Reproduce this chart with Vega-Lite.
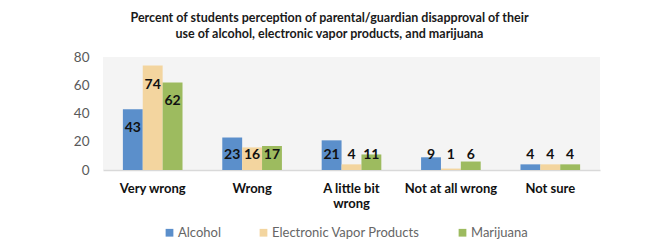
{
  "$schema": "https://vega.github.io/schema/vega-lite/v6.json",
  "autosize": {"type": "none"},
  "width": 497,
  "height": 113,
  "padding": {"left": 103, "top": 57, "right": 61, "bottom": 77},
  "background": "white",
  "title": {
    "text": ["Percent of students perception of parental/guardian disapproval of their", "use of alcohol, electronic vapor products, and marijuana"],
    "font": "Lato",
    "fontSize": 12.5,
    "fontWeight": "bold",
    "color": "#1a1a1a",
    "anchor": "middle",
    "dx": -22,
    "offset": 10,
    "lineHeight": 16
  },
  "data": {
    "values": [
      {"response": "Very wrong", "substance": "Alcohol", "percent": 43},
      {"response": "Very wrong", "substance": "Electronic Vapor Products", "percent": 74},
      {"response": "Very wrong", "substance": "Marijuana", "percent": 62},
      {"response": "Wrong", "substance": "Alcohol", "percent": 23},
      {"response": "Wrong", "substance": "Electronic Vapor Products", "percent": 16},
      {"response": "Wrong", "substance": "Marijuana", "percent": 17},
      {"response": "A little bit wrong", "substance": "Alcohol", "percent": 21},
      {"response": "A little bit wrong", "substance": "Electronic Vapor Products", "percent": 4},
      {"response": "A little bit wrong", "substance": "Marijuana", "percent": 11},
      {"response": "Not at all wrong", "substance": "Alcohol", "percent": 9},
      {"response": "Not at all wrong", "substance": "Electronic Vapor Products", "percent": 1},
      {"response": "Not at all wrong", "substance": "Marijuana", "percent": 6},
      {"response": "Not sure", "substance": "Alcohol", "percent": 4},
      {"response": "Not sure", "substance": "Electronic Vapor Products", "percent": 4},
      {"response": "Not sure", "substance": "Marijuana", "percent": 4}
    ]
  },
  "encoding": {
    "x": {
      "field": "response",
      "type": "nominal",
      "sort": ["Very wrong", "Wrong", "A little bit wrong", "Not at all wrong", "Not sure"],
      "scale": {"paddingInner": 0.4, "paddingOuter": 0.2},
      "axis": {
        "title": null,
        "labelAngle": 0,
        "labelFont": "Lato",
        "labelFontSize": 13,
        "labelFontWeight": "bold",
        "labelColor": "#111111",
        "labelPadding": 12,
        "ticks": false,
        "domainColor": "#d9d9d9",
        "domainWidth": 1.5,
        "labelExpr": "datum.value == 'A little bit wrong' ? ['A little bit', 'wrong'] : datum.value",
        "labelLineHeight": 15
      }
    },
    "xOffset": {
      "field": "substance",
      "type": "nominal",
      "sort": ["Alcohol", "Electronic Vapor Products", "Marijuana"]
    }
  },
  "layer": [
    {
      "mark": {"type": "bar"},
      "encoding": {
        "y": {
          "field": "percent",
          "type": "quantitative",
          "scale": {"domain": [0, 80]},
          "axis": {
            "title": null,
            "values": [0, 20, 40, 60, 80],
            "grid": false,
            "ticks": false,
            "domain": false,
            "labelOverlap": false,
            "labelFont": "Lato",
            "labelFontSize": 13.5,
            "labelColor": "#595959",
            "labelPadding": 14
          }
        },
        "color": {
          "field": "substance",
          "type": "nominal",
          "sort": ["Alcohol", "Electronic Vapor Products", "Marijuana"],
          "scale": {"range": ["#5b8fcb", "#f3d59f", "#9dbb5f"]},
          "legend": {
            "title": null,
            "orient": "none",
            "legendX": 60,
            "legendY": 169,
            "direction": "horizontal",
            "symbolType": "square",
            "symbolSize": 60,
            "symbolStrokeWidth": 0,
            "labelFont": "Lato",
            "labelFontSize": 13,
            "labelColor": "#666666",
            "labelOffset": 2,
            "columnPadding": 36
          }
        }
      }
    },
    {
      "transform": [{"calculate": "max(datum.percent - 13.5, 10.5)", "as": "labelPos"}],
      "mark": {"type": "text", "font": "Lato", "fontSize": 14, "fontWeight": "bold", "color": "#111111", "baseline": "middle"},
      "encoding": {
        "y": {
          "field": "labelPos",
          "type": "quantitative",
          "scale": {"domain": [0, 80]},
          "axis": {
            "title": null,
            "values": [0, 20, 40, 60, 80],
            "grid": false,
            "ticks": false,
            "domain": false,
            "labelOverlap": false,
            "labelFont": "Lato",
            "labelFontSize": 13.5,
            "labelColor": "#595959",
            "labelPadding": 14
          }
        },
        "text": {"field": "percent", "type": "quantitative"}
      }
    }
  ],
  "config": {
    "view": {"fill": "#f4f4f4", "stroke": null}
  }
}
